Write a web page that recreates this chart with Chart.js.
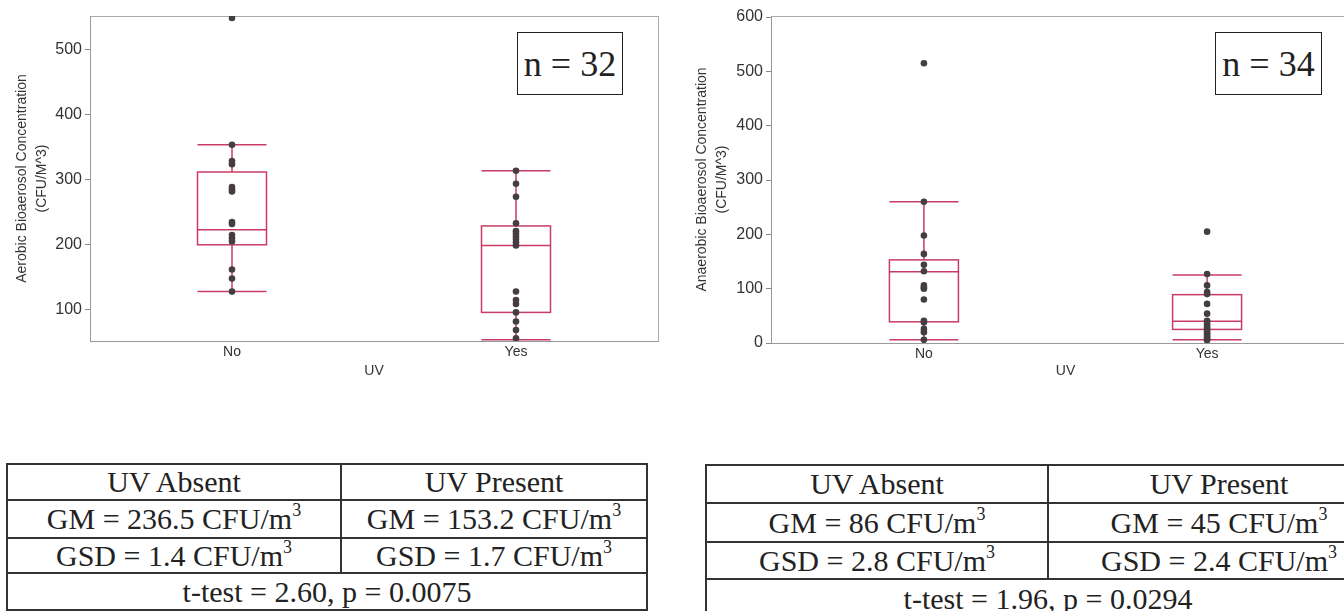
<!DOCTYPE html>
<html>
<head>
<meta charset="utf-8">
<script src="https://cdn.jsdelivr.net/npm/chart.js@4.4.0/dist/chart.umd.min.js"></script>
<style>
    html, body { margin: 0; padding: 0; width: 1344px; height: 611px; overflow: hidden; background: #fff; }
    canvas { position: absolute; top: 0; }
    #aerobic { left: 0; }
    #anaerobic { left: 680px; }
    .nbox {
        position: absolute; top: 32px; height: 61px; border: 1.5px solid #222; background: #fff;
        font-family: "Liberation Serif", serif; font-size: 36px; color: #222;
        display: flex; align-items: center; justify-content: center;
    }
    table.stats {
        position: absolute; border-collapse: collapse; table-layout: fixed;
        font-family: "Liberation Serif", serif; font-size: 30px; color: #222;
    }
    table.stats td { border: 2px solid #333; text-align: center; padding: 0; line-height: 30px; white-space: nowrap; }
    .sup { font-size: 18px; position: relative; top: -13px; line-height: 0; }
</style>
</head>
<body>
<canvas id="aerobic" width="670" height="390"></canvas>
<canvas id="anaerobic" width="684" height="390"></canvas>

<div class="nbox" style="left:517px; width:104px;">n = 32</div>
<div class="nbox" style="left:1215px; width:105px;">n = 34</div>

<table class="stats" style="left:6px; top:463px; width:640px;">
    <colgroup><col style="width:334px"><col style="width:306px"></colgroup>
    <tr style="height:36px"><td>UV Absent</td><td>UV Present</td></tr>
    <tr style="height:38px"><td>GM = 236.5 CFU/m<span class="sup">3</span></td><td>GM = 153.2 CFU/m<span class="sup">3</span></td></tr>
    <tr style="height:35px"><td>GSD = 1.4 CFU/m<span class="sup">3</span></td><td>GSD = 1.7 CFU/m<span class="sup">3</span></td></tr>
    <tr style="height:37px"><td colspan="2">t-test = 2.60, p = 0.0075</td></tr>
</table>

<table class="stats" style="left:705px; top:464px; width:684px;">
    <colgroup><col style="width:342px"><col style="width:342px"></colgroup>
    <tr style="height:38px"><td>UV Absent</td><td>UV Present</td></tr>
    <tr style="height:39px"><td>GM = 86 CFU/m<span class="sup">3</span></td><td>GM = 45 CFU/m<span class="sup">3</span></td></tr>
    <tr style="height:37px"><td>GSD = 2.8 CFU/m<span class="sup">3</span></td><td>GSD = 2.4 CFU/m<span class="sup">3</span></td></tr>
    <tr style="height:40px"><td colspan="2">t-test = 1.96, p = 0.0294</td></tr>
</table>

<script>
    // categories on the x axis (UV lamp present?)
    var categories = ['No', 'Yes'];

    // aerobic bioaerosol samples, CFU/m^3
    var aerobicNo = [548, 353, 328, 323, 288, 284, 281, 234, 231, 214, 209, 204, 161, 147, 127];
    var aerobicYes = [313, 293, 273, 232, 220, 216, 212, 208, 203, 198, 127, 114, 108, 95, 81, 68, 55];
    // box stats: [lower whisker, q1, median, q3, upper whisker]
    var aerobicNoBox = [127, 199, 222, 311, 353];
    var aerobicYesBox = [53, 95, 198, 228, 313];
    var aerobicTicks = [100, 200, 300, 400, 500];

    // anaerobic bioaerosol samples, CFU/m^3
    var anaerobicNo = [515, 260, 198, 164, 144, 132, 106, 102, 100, 80, 41, 38, 26, 20, 6];
    var anaerobicYes = [205, 127, 106, 94, 90, 72, 54, 41, 37, 33, 29, 25, 21, 18, 15, 12, 9, 7, 5];
    var anaerobicNoBox = [6, 39, 131, 153, 260];
    var anaerobicYesBox = [6, 25, 40, 89, 125];
    var anaerobicTicks = [0, 100, 200, 300, 400, 500, 600];

    var BOX_COLOR = '#c83c64';
    var DOT_COLOR = '#453d44';
    var SANS = '"Liberation Sans", Arial, sans-serif';

    // draws the box, whiskers and caps from the stats, under the points
    var boxWhisker = {
        id: 'boxWhisker',
        beforeDatasetsDraw: function(chart, args, opts) {
            var ctx = chart.ctx;
            var xs = chart.scales.x, ys = chart.scales.y;
            var half = opts.width / 2;
            ctx.save();
            ctx.strokeStyle = BOX_COLOR;
            ctx.lineWidth = 1.5;
            opts.stats.forEach(function(s, i) {
                var cx = xs.getPixelForValue(i);
                var lo = ys.getPixelForValue(s[0]);
                var q1 = ys.getPixelForValue(s[1]);
                var med = ys.getPixelForValue(s[2]);
                var q3 = ys.getPixelForValue(s[3]);
                var hi = ys.getPixelForValue(s[4]);
                ctx.beginPath();
                ctx.moveTo(cx, lo); ctx.lineTo(cx, q1);
                ctx.moveTo(cx, q3); ctx.lineTo(cx, hi);
                ctx.moveTo(cx - half, lo); ctx.lineTo(cx + half, lo);
                ctx.moveTo(cx - half, hi); ctx.lineTo(cx + half, hi);
                ctx.moveTo(cx - half, med); ctx.lineTo(cx + half, med);
                ctx.stroke();
                ctx.strokeRect(cx - half, q3, half * 2, q1 - q3);
            });
            ctx.restore();
        }
    };

    // thin grey frame round the plot area
    var frame = {
        id: 'frame',
        beforeDraw: function(chart) {
            var a = chart.chartArea, ctx = chart.ctx;
            ctx.save();
            ctx.strokeStyle = '#aaa';
            ctx.lineWidth = 1;
            ctx.strokeRect(a.left + 0.5, a.top + 0.5, a.right - a.left, a.bottom - a.top);
            ctx.restore();
        }
    };

    function points(values, idx) {
        return values.map(function(v) { return {x: idx, y: v}; });
    }

    function render_chart(canvas, cfg) {
        return new Chart(canvas.getContext('2d'), {
            type: 'scatter',
            data: {
                datasets: [
                    {data: points(cfg.no, 0)},
                    {data: points(cfg.yes, 1)}
                ]
            },
            options: {
                responsive: false,
                animation: false,
                layout: {padding: {top: 16, right: cfg.padRight, left: 0, bottom: 0}},
                elements: {
                    point: {radius: 3.3, backgroundColor: DOT_COLOR, borderColor: DOT_COLOR, borderWidth: 0}
                },
                plugins: {
                    legend: {display: false},
                    tooltip: {enabled: false},
                    boxWhisker: {stats: cfg.stats, width: 69}
                },
                scales: {
                    x: {
                        type: 'linear',
                        min: cfg.xMin,
                        max: cfg.xMax,
                        afterBuildTicks: function(scale) {
                            scale.ticks = categories.map(function(c, i) { return {value: i}; });
                        },
                        afterFit: function(scale) { scale.height = cfg.xHeight; },
                        grid: {display: false, drawTicks: false},
                        border: {display: true, color: '#999'},
                        ticks: {
                            padding: 3,
                            color: '#333',
                            font: {family: SANS, size: 14},
                            callback: function(v) { return categories[v]; }
                        },
                        title: {
                            display: true,
                            text: 'UV',
                            color: '#333',
                            font: {family: SANS, size: 14, lineHeight: 1.2},
                            padding: {top: 0, bottom: 10}
                        }
                    },
                    y: {
                        min: cfg.yMin,
                        max: cfg.yMax,
                        afterBuildTicks: function(scale) {
                            scale.ticks = cfg.ticks.map(function(v) { return {value: v}; });
                        },
                        afterFit: function(scale) { scale.width = cfg.yWidth; },
                        grid: {drawOnChartArea: false, tickLength: 5, color: '#888'},
                        border: {display: true, color: '#999'},
                        ticks: {
                            padding: 3,
                            color: '#333',
                            font: {family: SANS, size: 16}
                        },
                        title: {
                            display: true,
                            text: cfg.title,
                            color: '#333',
                            font: {family: SANS, size: 14, lineHeight: 1.43},
                            padding: {top: 12, bottom: 0}
                        }
                    }
                }
            },
            plugins: [frame, boxWhisker]
        });
    }

    render_chart(document.getElementById('aerobic'), {
        no: aerobicNo, yes: aerobicYes,
        stats: [aerobicNoBox, aerobicYesBox],
        ticks: aerobicTicks,
        title: ['Aerobic Bioaerosol Concentration', '(CFU/M^3)'],
        yMin: 51, yMax: 551,
        xMin: -0.5, xMax: 1.5,
        yWidth: 90, xHeight: 49, padRight: 12
    });

    render_chart(document.getElementById('anaerobic'), {
        no: anaerobicNo, yes: anaerobicYes,
        stats: [anaerobicNoBox, anaerobicYesBox],
        ticks: anaerobicTicks,
        title: ['Anaerobic Bioaerosol Concentration', '(CFU/M^3)'],
        yMin: 0, yMax: 602,
        xMin: -0.54, xMax: 1.54,
        yWidth: 91, xHeight: 47, padRight: 0
    });
</script>
</body>
</html>
